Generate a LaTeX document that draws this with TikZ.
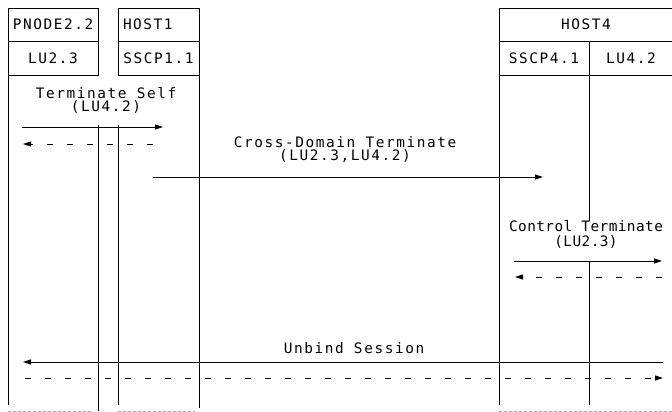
\documentclass[tikz,border=0pt]{standalone}
\usepackage{fontspec}
\newfontfamily\diafont[LetterSpace=11]{DejaVu Sans Mono}
\newfontfamily\diafontnarrow[LetterSpace=3]{DejaVu Sans Mono}
\usetikzlibrary{arrows.meta,positioning}

\begin{document}
\begin{tikzpicture}[x=1pt,y=-1pt,>={Triangle[length=8pt,width=5pt]},
cell/.style={draw,line width=1pt,outer sep=0pt,inner sep=0pt,font=\diafont\fontsize{14.4}{13}\selectfont,minimum height=33.5pt,text height=10pt,text depth=0pt},
msg/.style={font=\diafont\fontsize{14.4}{13}\selectfont,align=center,inner sep=0pt},
life/.style={line width=1pt},arrow/.style={->,line width=1pt},
reply/.style={->,line width=1pt,dash pattern=on 6pt off 14pt},
torn/.style={gray!70,line width=0.7pt,dash pattern=on 3pt off 2pt}]
\useasboundingbox (0,0) rectangle (672,412);
% header boxes
\node[cell,minimum width=90pt] (pnode) at (53,25) {PNODE2.2};
\node[cell,minimum width=90pt,below=0pt of pnode] (lu23) {LU2.3};
\node[cell,minimum width=81pt,text width=71pt,align=left] (host1) at (158.5,25) {HOST1};
\node[cell,minimum width=81pt,below=0pt of host1] (sscp11) {SSCP1.1};
\node[cell,minimum width=174pt] (host4) at (586,25) {HOST4};
\node[cell,minimum width=90pt,anchor=north west] (sscp41) at (host4.south west) {SSCP4.1};
\node[cell,minimum width=84pt,anchor=north west] (lu42) at (sscp41.north east) {LU4.2};
% lifelines
\draw[life] (lu23.south west) -- ++(0,330);
\draw[life] (lu23.south east) ++(0,50) -- ++(0,286);
\draw[life] (sscp11.south west) ++(0,50) -- ++(0,280);
\draw[life] (sscp11.south east) -- ++(0,333);
\draw[life] (sscp41.south west) -- ++(0,330);
\draw[life] (sscp41.south east) -- ++(0,146);
\draw[life] (sscp41.south east) ++(0,186) -- ++(0,144);
\draw[torn] (8,411) -- (92,411) (118,411) -- (195,411) (499,411) -- (672,411);
% messages
\coordinate (ts1) at (22,127); \coordinate (ts2) at (163,127);
\coordinate (tr1) at (153,144); \coordinate (tr2) at (23,144);
\coordinate (cd1) at (153,177); \coordinate (cd2) at (543,177);
\coordinate (ct1) at (514,261); \coordinate (ct2) at (662,261);
\coordinate (cr1) at (662,277); \coordinate (cr2) at (515,277);
\coordinate (ub1) at (663,362); \coordinate (ub2) at (23,362);
\coordinate (ur1) at (25,378); \coordinate (ur2) at (663,378);
\node[msg,anchor=south] (tslbl) at (106,113.5) {Terminate Self\\(LU4.2)};
\node[msg,anchor=south] (cdlbl) at (345,163) {Cross-Domain Terminate\\(LU2.3,LU4.2)};
\node[msg,anchor=south,font=\diafontnarrow\fontsize{14.4}{15}\selectfont] (ctlbl) at (586,249) {Control Terminate\\(LU2.3)};
\node[msg,anchor=base] (ublbl) at (354,353) {Unbind Session};
\draw[arrow] (ts1) -- (ts2); \draw[reply] (tr1) -- (tr2);
\draw[arrow] (cd1) -- (cd2);
\draw[arrow] (ct1) -- (ct2); \draw[reply] (cr1) -- (cr2);
\draw[arrow] (ub1) -- (ub2); \draw[reply] (ur1) -- (ur2);
\end{tikzpicture}
\end{document}
